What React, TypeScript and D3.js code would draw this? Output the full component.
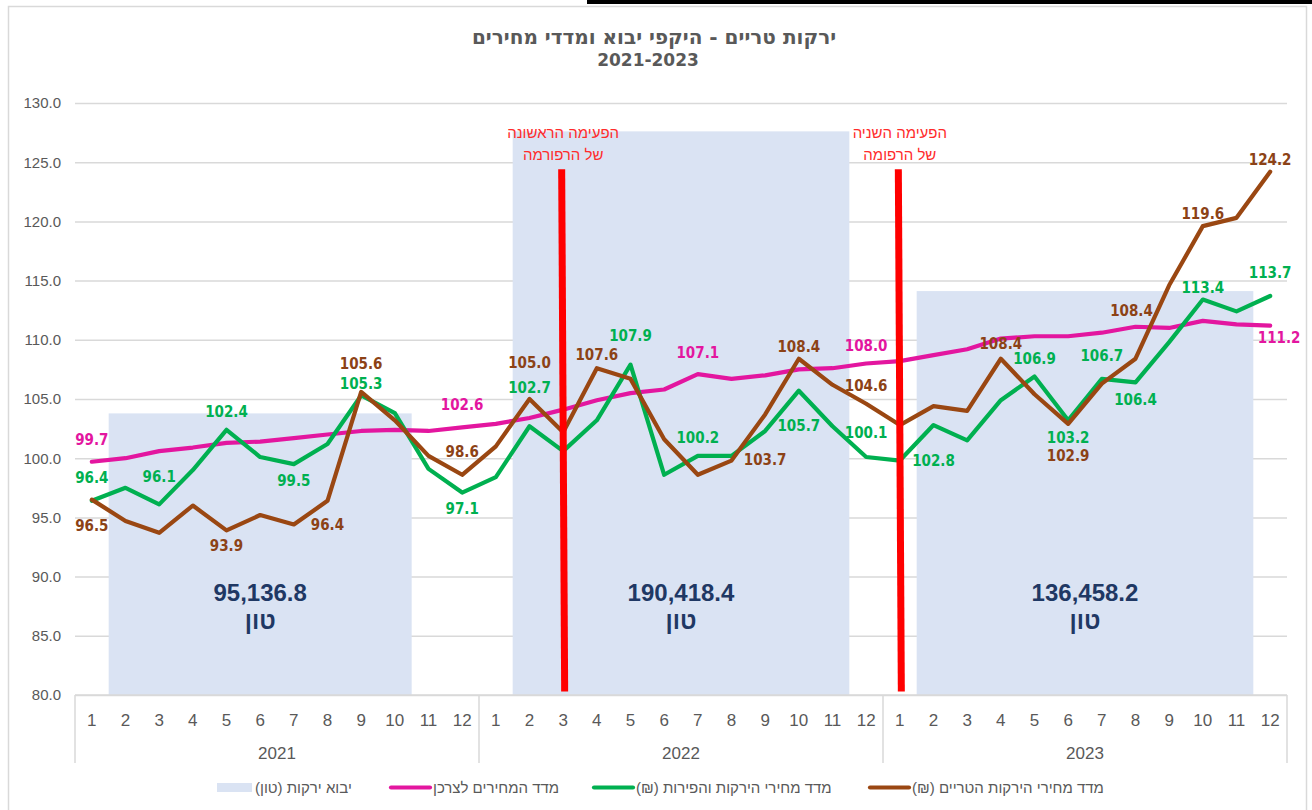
import { useEffect, useRef } from "react";
import * as d3 from "d3";

// categories
const years = ["2021", "2022", "2023"];
const months = ["1", "2", "3", "4", "5", "6", "7", "8", "9", "10", "11", "12"];

// index series, one value per month 2021-01 .. 2023-12
const cpi = [
  99.7, 100.0, 100.6, 100.9, 101.3, 101.4, 101.7, 102.0, 102.3, 102.4, 102.3, 102.6,
  102.9, 103.4, 104.1, 104.9, 105.5, 105.8, 107.1, 106.7, 107.0, 107.5, 107.6, 108.0,
  108.2, 108.7, 109.2, 110.1, 110.3, 110.3, 110.6, 111.1, 111.0, 111.6, 111.3, 111.2,
];
const fruitVegPrices = [
  96.4, 97.5, 96.1, 99.0, 102.4, 100.1, 99.5, 101.2, 105.3, 103.8, 99.1, 97.1,
  98.4, 102.7, 100.6, 103.2, 107.9, 98.6, 100.2, 100.2, 102.3, 105.7, 102.7, 100.1,
  99.8, 102.8, 101.5, 104.9, 106.9, 103.2, 106.7, 106.4, 109.8, 113.4, 112.4, 113.7,
];
const freshVegPrices = [
  96.5, 94.7, 93.7, 96.0, 93.9, 95.2, 94.4, 96.4, 105.6, 103.2, 100.2, 98.6,
  101.0, 105.0, 102.2, 107.6, 106.7, 101.6, 98.6, 99.8, 103.7, 108.4, 106.2, 104.6,
  102.8, 104.4, 104.0, 108.4, 105.4, 102.9, 106.3, 108.4, 114.6, 119.6, 120.3, 124.2,
];

// vegetable imports (tons) per year and the months the bar covers
const importTons = [95136.8, 190418.4, 136458.2];
const importFromMonth = [2, 2, 2];
const importToMonth = [10, 11, 11];

// reform markers
const reformYears = ["2022", "2023"];
const reformMonths = [3, 1];
const reformLabels = [
  ["הפעימה הראשונה", "של הרפורמה"],
  ["הפעימה השניה", "של הרפומה"],
];

const yTicks = [80, 85, 90, 95, 100, 105, 110, 115, 120, 125, 130];

const legendNames = [
  "יבוא ירקות (טון)",
  "מדד המחירים לצרכן",
  "מדד מחירי הירקות והפירות (₪)",
  "מדד מחירי הירקות הטריים (₪)",
];

// which points get a value label, and where it sits relative to the point [index, dy, dx]
const cpiLabelAt = [[0, -22, 0], [11, -23, 0], [18, -22, 0], [23, -18, 0], [35, 12, 9]];
const fruitLabelAt = [
  [0, -23, 0], [2, -28, 0], [4, -18, 0], [6, 16, 0], [8, -12, 0], [11, 16, 0],
  [13, -39, 0], [16, -29, 0], [18, -18, 0], [21, 35, 0], [23, -24, 0], [25, 36, 0],
  [28, -18, 0], [29, 17, 0], [30, -23, 0], [31, 17, 0], [33, -12, 0], [35, -23, 0],
];
const freshLabelAt = [
  [0, 26, 0], [4, 15, 0], [7, 24, 0], [8, -28, 0], [11, -23, 0], [13, -36, 0],
  [15, -14, 0], [20, 45, 0], [21, -12, 0], [23, -18, 0], [27, -15, 0], [29, 32, 0],
  [31, -48, -4], [33, -13, 0], [35, -12, 0],
];

const W = 1312;
const H = 810;
const AXIS_FONT = "'Liberation Sans', Arial, sans-serif";
const LABEL_FONT = "'DejaVu Sans Condensed', 'DejaVu Sans', sans-serif";
const GRAY = "#595959";
const GRID = "#d9d9d9";
const C_CPI = "#e3169f";
const C_FRUIT = "#00b050";
const C_FRESH = "#9a4712";
const C_FRESH_TXT = "#8c4216";
const C_BAR = "#dae3f3";

export default function App() {
  const svgRef = useRef<SVGSVGElement>(null);

  useEffect(() => {
    const svg = d3.select(svgRef.current);
    svg.selectAll("*").remove();

    const keys: string[] = [];
    years.forEach(yr => months.forEach(m => keys.push(`${yr}-${m}`)));

    const x = d3.scaleBand().domain(keys).range([75, 1287]);
    const xYear = d3.scaleBand().domain(years).range([75, 1287]);
    const y = d3.scaleLinear().domain([80, 130]).range([695, 103]);
    const yImp = d3.scaleLinear().domain([0, 200000]).range([695, 103]);
    const bw = x.bandwidth();
    const cx = (i: number) => (x(keys[i]) as number) + bw / 2;

    // frame + stray cell border on top
    svg.append("rect").attr("x", 0).attr("y", 0).attr("width", W).attr("height", H).attr("fill", "#fff");
    svg.append("rect").attr("x", 587).attr("y", 0).attr("width", W - 587).attr("height", 4).attr("fill", "#000");
    svg.append("rect")
      .attr("x", 8.5).attr("y", 6.5).attr("width", 1298).attr("height", 820)
      .attr("fill", "none").attr("stroke", GRID).attr("stroke-width", 1.5);

    // title
    svg.append("text")
      .attr("x", 654).attr("y", 44)
      .attr("text-anchor", "middle")
      .attr("font-family", "'DejaVu Sans', sans-serif")
      .attr("font-weight", "bold")
      .attr("font-size", 20)
      .attr("fill", GRAY)
      .style("direction", "rtl")
      .text("ירקות טריים - היקפי יבוא ומדדי מחירים");
    svg.append("text")
      .attr("x", 648).attr("y", 66)
      .attr("text-anchor", "middle")
      .attr("font-family", "'DejaVu Sans', sans-serif")
      .attr("font-weight", "bold")
      .attr("font-size", 17)
      .attr("fill", GRAY)
      .text("2021-2023");

    // y axis with gridlines
    const yAxis = svg.append("g")
      .attr("transform", "translate(75,0)")
      .call(
        d3.axisLeft(y)
          .tickValues(yTicks)
          .tickSize(-1212)
          .tickPadding(14)
          .tickFormat(d3.format(".1f"))
      );
    yAxis.select(".domain").remove();
    yAxis.selectAll(".tick line").attr("stroke", GRID).attr("stroke-width", 1.5);
    yAxis.selectAll(".tick text")
      .attr("fill", GRAY)
      .attr("font-family", AXIS_FONT)
      .attr("font-size", 15);

    // import bars
    const barG = svg.append("g");
    barG.selectAll("rect")
      .data(importTons)
      .enter()
      .append("rect")
      .attr("x", (d, i) => x(`${years[i]}-${importFromMonth[i]}`) as number)
      .attr("width", (d, i) =>
        (x(`${years[i]}-${importToMonth[i]}`) as number) + bw - (x(`${years[i]}-${importFromMonth[i]}`) as number))
      .attr("y", d => yImp(d))
      .attr("height", d => yImp(0) - yImp(d))
      .attr("fill", C_BAR);

    importTons.forEach((d, i) => {
      const x0 = x(`${years[i]}-${importFromMonth[i]}`) as number;
      const x1 = (x(`${years[i]}-${importToMonth[i]}`) as number) + bw;
      const mid = (x0 + x1) / 2;
      barG.append("text")
        .attr("x", mid).attr("y", 601)
        .attr("text-anchor", "middle")
        .attr("font-family", AXIS_FONT).attr("font-weight", "bold").attr("font-size", 24)
        .attr("fill", "#1f3864")
        .text(d3.format(",.1f")(d));
      barG.append("text")
        .attr("x", mid).attr("y", 629)
        .attr("text-anchor", "middle")
        .attr("font-family", AXIS_FONT).attr("font-weight", "bold").attr("font-size", 24)
        .attr("fill", "#1f3864")
        .style("direction", "rtl")
        .text("טון");
    });

    // category axis
    const axG = svg.append("g");
    axG.append("line").attr("x1", 75).attr("x2", 1287).attr("y1", 695).attr("y2", 695)
      .attr("stroke", GRID).attr("stroke-width", 1.5);
    [...years.map(yr => xYear(yr) as number), 1287].forEach(px => {
      axG.append("line").attr("x1", px).attr("x2", px).attr("y1", 695).attr("y2", 763)
        .attr("stroke", GRID).attr("stroke-width", 1.5);
    });
    axG.selectAll("text.month")
      .data(keys)
      .enter()
      .append("text")
      .attr("class", "month")
      .attr("x", (d, i) => cx(i))
      .attr("y", 726)
      .attr("text-anchor", "middle")
      .attr("font-family", AXIS_FONT).attr("font-size", 17).attr("fill", GRAY)
      .text(d => d.split("-")[1]);
    axG.selectAll("text.year")
      .data(years)
      .enter()
      .append("text")
      .attr("class", "year")
      .attr("x", d => (xYear(d) as number) + xYear.bandwidth() / 2)
      .attr("y", 759)
      .attr("text-anchor", "middle")
      .attr("font-family", AXIS_FONT).attr("font-size", 17).attr("fill", GRAY)
      .text(d => d);

    // lines
    const line = d3.line<number>().x((d, i) => cx(i)).y(d => y(d));
    const series = [
      { values: cpi, color: C_CPI, text: C_CPI, labels: cpiLabelAt },
      { values: fruitVegPrices, color: C_FRUIT, text: C_FRUIT, labels: fruitLabelAt },
      { values: freshVegPrices, color: C_FRESH, text: C_FRESH_TXT, labels: freshLabelAt },
    ];
    series.forEach(s => {
      svg.append("path")
        .datum(s.values)
        .attr("d", line)
        .attr("fill", "none")
        .attr("stroke", s.color)
        .attr("stroke-width", 4.2)
        .attr("stroke-linejoin", "round")
        .attr("stroke-linecap", "round");
    });

    // reform markers
    reformYears.forEach((yr, k) => {
      const px = cx(keys.indexOf(`${yr}-${reformMonths[k]}`));
      svg.append("line")
        .attr("x1", px - 1.5).attr("x2", px + 1.5)
        .attr("y1", y(124.4)).attr("y2", y(80.3))
        .attr("stroke", "#ff0000").attr("stroke-width", 7);
      const t = svg.append("text")
        .attr("text-anchor", "middle")
        .attr("font-family", AXIS_FONT).attr("font-size", 15)
        .attr("fill", "#ff2b2b")
        .style("direction", "rtl");
      t.append("tspan").attr("x", px).attr("y", 138).text(reformLabels[k][0]);
      t.append("tspan").attr("x", px).attr("y", 160).text(reformLabels[k][1]);
    });

    // value labels
    series.forEach(s => {
      svg.append("g")
        .selectAll("text")
        .data(s.labels)
        .enter()
        .append("text")
        .attr("x", d => cx(d[0]) + d[2])
        .attr("y", d => y(s.values[d[0]]) + d[1])
        .attr("dy", "0.36em")
        .attr("text-anchor", "middle")
        .attr("font-family", LABEL_FONT).attr("font-weight", "bold").attr("font-size", 15)
        .attr("fill", s.text)
        .text(d => d3.format(".1f")(s.values[d[0]]));
    });

    // legend: swatch, then the entry text right after it
    const lg = svg.append("g");
    const legendStart = [217, 391, 594, 870];
    const swatchW = [35, 39, 39, 39];
    const swatchColor = [C_BAR, C_CPI, C_FRUIT, C_FRESH];
    legendNames.forEach((name, i) => {
      const lx = legendStart[i];
      if (i === 0) {
        lg.append("rect").attr("x", lx).attr("y", 783).attr("width", swatchW[0]).attr("height", 9)
          .attr("fill", swatchColor[0]);
      } else {
        lg.append("line").attr("x1", lx).attr("x2", lx + swatchW[i]).attr("y1", 787.5).attr("y2", 787.5)
          .attr("stroke", swatchColor[i]).attr("stroke-width", 4.2).attr("stroke-linecap", "round");
      }
      const t = lg.append("text")
        .attr("y", 792.5)
        .attr("text-anchor", "middle")
        .attr("font-family", AXIS_FONT).attr("font-size", 15).attr("fill", GRAY)
        .style("direction", "rtl")
        .text(name);
      const w = (t.node() as SVGTextElement).getComputedTextLength();
      t.attr("x", lx + swatchW[i] + 3 + w / 2);
    });
  }, []);

  return (
    <svg
      ref={svgRef}
      width={W}
      height={H}
      style={{ position: "absolute", left: 0, top: 0, display: "block" }}
    />
  );
}
